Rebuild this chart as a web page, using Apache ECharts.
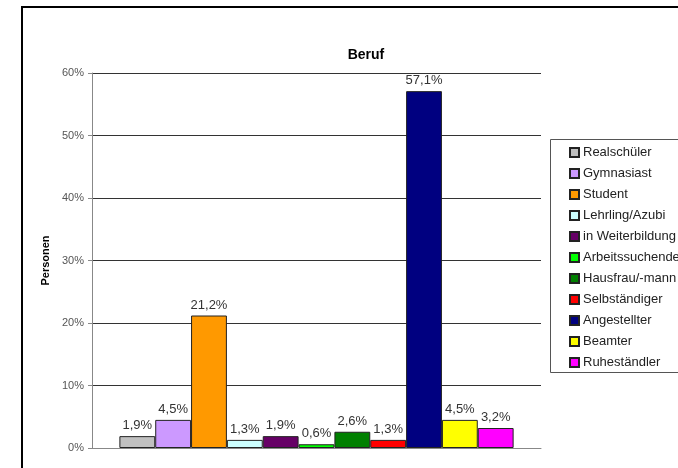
<!DOCTYPE html>
<html><head><meta charset="utf-8">
<script src="https://cdn.jsdelivr.net/npm/echarts@6/dist/echarts.min.js"></script>
<style>html,body{margin:0;padding:0;background:#fff}#c{width:678px;height:468px}</style>
</head><body><div id="c"></div>
<script>
const categories = ['Realschüler','Gymnasiast','Student','Lehrling/Azubi','in Weiterbildung','Arbeitssuchende','Hausfrau/-mann','Selbständiger','Angestellter','Beamter','Ruheständler'];
const values = [1.9, 4.5, 21.2, 1.3, 1.9, 0.6, 2.6, 1.3, 57.1, 4.5, 3.2];
const colors = ['#C0C0C0','#CC99FF','#FF9900','#CCFFFF','#660066','#00FF00','#008000','#FF0000','#000080','#FFFF00','#FF00FF'];
const yTicks = [0, 10, 20, 30, 40, 50, 60];

const font = 'Liberation Sans, Arial, sans-serif';
const chart = echarts.init(document.getElementById('c'));
const series = categories.map((name, i) => ({
  name: name,
  type: 'bar',
  data: [values[i]],
  barGap: '0%',
  barCategoryGap: '12.2%',
  itemStyle: { color: colors[i], borderColor: '#222', borderWidth: 1 },
  label: {
    show: true, position: 'top', distance: 4,
    fontFamily: font, fontSize: 13, color: '#333',
    formatter: p => p.value.toFixed(1).replace('.', ',') + '%'
  },
  animation: false
}));
chart.setOption({
  animation: false,
  title: {
    text: 'Beruf', left: 361, top: 43, textAlign: 'center',
    textStyle: { fontFamily: font, fontSize: 14, fontWeight: 'bold', color: '#000' }
  },
  graphic: [
    { type: 'rect', shape: { x: 22, y: 7, width: 700, height: 500 }, style: { fill: 'none', stroke: '#000', lineWidth: 2 }, silent: true, z: -10 },
    { type: 'rect', shape: { x: 550.5, y: 139.5, width: 150, height: 233 }, style: { fill: '#fff', stroke: '#555', lineWidth: 1 }, silent: true, z: -5 }
  ],
  legend: {
    orient: 'vertical', left: 569, top: 146, padding: 0,
    itemWidth: 9, itemHeight: 9, itemGap: 8,
    icon: 'rect',
    textStyle: { fontFamily: font, fontSize: 13, lineHeight: 13, color: '#222', padding: [0, 0, 0, -1] },
    data: categories
  },
  grid: { left: 92, top: 73, width: 449, height: 375, containLabel: false },
  xAxis: {
    type: 'category', data: [''],
    axisLine: { show: true, lineStyle: { color: '#888' } },
    axisTick: { show: false }, axisLabel: { show: false }
  },
  yAxis: {
    type: 'value', min: yTicks[0], max: yTicks[yTicks.length - 1], interval: 10,
    name: 'Personen', nameLocation: 'middle', nameGap: 39, nameRotate: 90,
    nameTextStyle: { fontFamily: font, fontSize: 11, fontWeight: 'bold', color: '#000' },
    axisLine: { show: true, lineStyle: { color: '#888' } },
    axisTick: { show: true, length: 4, lineStyle: { color: '#888' } },
    axisLabel: { formatter: '{value}%', fontFamily: font, fontSize: 11, color: '#555', margin: 8 },
    splitLine: { show: true, lineStyle: { color: '#333', width: 1 } }
  },
  series: series
});
</script></body></html>
